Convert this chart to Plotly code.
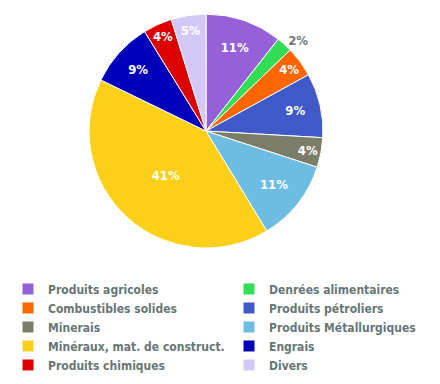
import plotly.graph_objects as go

categories = ["Produits agricoles", "Denrées alimentaires", "Combustibles solides",
              "Produits pétroliers", "Minerais", "Produits Métallurgiques",
              "Minéraux, mat. de construct.", "Engrais", "Produits chimiques", "Divers"]
values = [10.6, 2.2, 4.2, 8.9, 4.1, 11.3, 40.9, 9.0, 4.0, 4.8]
colors = ["#9560d8", "#33dd55", "#ff6600", "#3f59c8", "#7b7d69", "#6dbde3",
          "#fccf18", "#0000bb", "#dd0000", "#d3c8f5"]
positions = ["inside", "outside", "inside", "inside", "inside", "inside",
             "inside", "inside", "inside", "inside"]

FONT = "Liberation Sans Narrow, DejaVu Sans Condensed, sans-serif"

fig = go.Figure(go.Pie(
    labels=categories, values=values, sort=False, direction="clockwise", rotation=0,
    marker=dict(colors=colors, line=dict(color="white", width=1)),
    texttemplate="%{percent:.0%}",
    textposition=positions,
    insidetextorientation="horizontal",
    insidetextfont=dict(color="white", size=13, family=FONT, weight="bold"),
    outsidetextfont=dict(color="#6b7b7b", size=13, family=FONT, weight="bold"),
    domain=dict(x=[0.184, 0.716], y=[0.375, 0.984]),
    hoverinfo="label+percent",
))

fig.update_layout(
    width=440, height=384,
    margin=dict(l=0, r=0, t=0, b=0, autoexpand=False),
    paper_bgcolor="white", plot_bgcolor="white",
    showlegend=True,
    legend=dict(orientation="h", x=0.0, y=0.306, xanchor="left", yanchor="top",
                entrywidth=176, entrywidthmode="pixels",
                font=dict(family=FONT, size=12, color="#677676", weight="bold"),
                traceorder="normal", itemclick=False),
    font=dict(family=FONT),
)
fig.write_html("out.html")
